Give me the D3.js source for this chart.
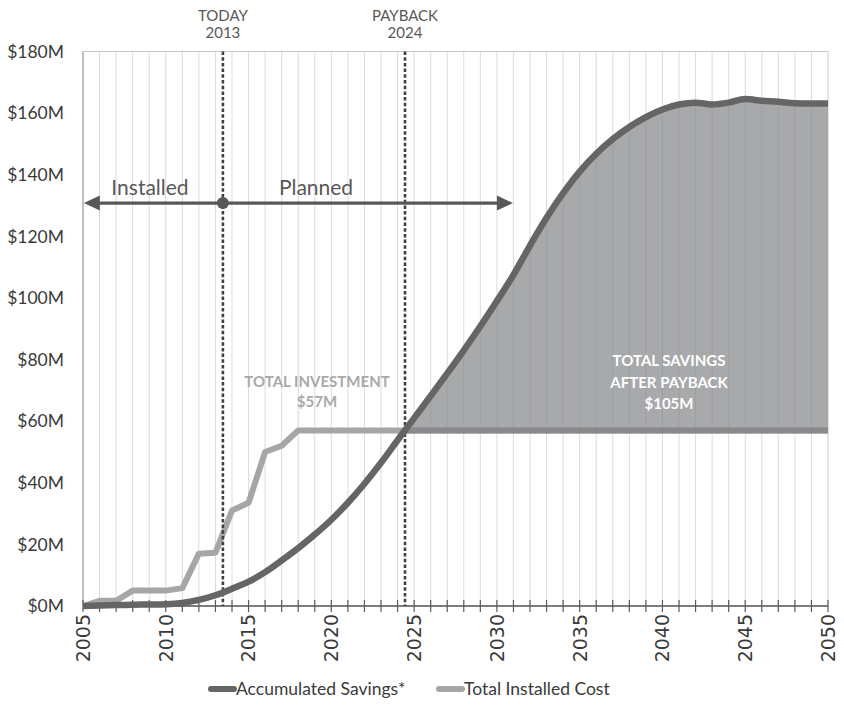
<!DOCTYPE html>
<html>
<head>
<meta charset="utf-8">
<script src="https://cdn.jsdelivr.net/npm/d3@7"></script>
<style>
  html, body { margin: 0; padding: 0; background: #fff; }
  svg { display: block; }
</style>
</head>
<body>
<div id="chart"></div>
<script>
// ---- data ----
const years = [2005, 2006, 2007, 2008, 2009, 2010, 2011, 2012, 2013, 2014,
               2015, 2016, 2017, 2018, 2019, 2020, 2021, 2022, 2023, 2024,
               2025, 2026, 2027, 2028, 2029, 2030, 2031, 2032, 2033, 2034,
               2035, 2036, 2037, 2038, 2039, 2040, 2041, 2042, 2043, 2044,
               2045, 2046, 2047, 2048, 2049, 2050];

// Accumulated savings, $M
const savings = [0, 0.2, 0.3, 0.4, 0.5, 0.6, 1.0, 2.0, 3.5, 5.6,
                 7.9, 11.0, 14.8, 18.8, 23.2, 28.0, 33.5, 39.7, 46.5, 53.8,
                 61.0, 68.2, 75.5, 83.0, 90.8, 99.0, 107.5, 117.0, 126.0, 134.0,
                 141.0, 146.8, 151.6, 155.5, 158.7, 161.2, 162.8, 163.4, 162.8, 163.4,
                 164.6, 164.0, 163.7, 163.2, 163.1, 163.1];

// Total installed cost, $M
const installedCost = [0, 1.7, 1.7, 5.0, 5.0, 5.0, 5.8, 17.0, 17.3, 31.0,
                       33.5, 50.0, 52.0, 57, 57, 57, 57, 57, 57, 57,
                       57, 57, 57, 57, 57, 57, 57, 57, 57, 57,
                       57, 57, 57, 57, 57, 57, 57, 57, 57, 57,
                       57, 57, 57, 57, 57, 57];

const yTicks = [0, 20, 40, 60, 80, 100, 120, 140, 160, 180];
const yTickLabels = ["$0M", "$20M", "$40M", "$60M", "$80M", "$100M", "$120M", "$140M", "$160M", "$180M"];
const xTickLabels = [2005, 2010, 2015, 2020, 2025, 2030, 2035, 2040, 2045, 2050];

const milestoneNames = ["TODAY", "PAYBACK"];
const milestoneYears = [2013, 2024];
const milestoneAt = [2013.45, 2024.45];

const totalInvestment = 57;
const savingsAfterPayback = 105;

const seriesNames = ["Accumulated Savings*", "Total Installed Cost"];

// ---- layout ----
const W = 844, H = 706;
const x = d3.scaleLinear().domain([2005, 2050]).range([83, 828]);
const y = d3.scaleLinear().domain([0, 180]).range([606, 51.5]);

const svg = d3.select("#chart").append("svg")
  .attr("width", W).attr("height", H)
  .style("font-family", "Lato, 'Open Sans', sans-serif");

svg.append("rect").attr("width", W).attr("height", H).attr("fill", "#fff");

const data = years.map((yr, i) => ({ year: yr, s: savings[i], c: installedCost[i] }));

const COL_DARK = "#656565";
const COL_LIGHT = "#a6a6a6";
const COL_FILL = "#a8a9ab";
const COL_TEXT = "#3a3a3a";
const COL_NOTE = "#585858";

const defs = svg.append("defs");
const paybackX = x(milestoneAt[1]);
defs.append("clipPath").attr("id", "afterPayback")
  .append("rect")
  .attr("x", paybackX).attr("y", 0)
  .attr("width", x(2050) - paybackX).attr("height", H);

// vertical year gridlines
svg.append("g").selectAll("line")
  .data(years.filter(d => d > 2005 && d < 2050))
  .join("line")
  .attr("x1", d => x(d)).attr("x2", d => x(d))
  .attr("y1", y(180)).attr("y2", y(0))
  .attr("stroke", "#dcdcdc").attr("stroke-width", 1);

// plot frame
svg.append("rect")
  .attr("x", x(2005)).attr("y", y(180))
  .attr("width", x(2050) - x(2005)).attr("height", y(0) - y(180))
  .attr("fill", "none").attr("stroke", "#c8c8c8").attr("stroke-width", 1);
svg.append("line")
  .attr("x1", x(2005)).attr("x2", x(2005))
  .attr("y1", y(180)).attr("y2", y(0))
  .attr("stroke", "#9a9a9a").attr("stroke-width", 1);

// savings area above the installed cost, after payback
const area = d3.area()
  .x(d => x(d.year))
  .y0(d => y(d.c))
  .y1(d => y(Math.max(d.s, d.c)));
const areaPath = area(data);
svg.append("path")
  .attr("d", areaPath)
  .attr("clip-path", "url(#afterPayback)")
  .attr("fill", COL_FILL);

// gridlines seen through the shaded area
defs.append("clipPath").attr("id", "areaClip")
  .append("path").attr("d", areaPath);
svg.append("g").attr("clip-path", "url(#afterPayback)")
  .append("g").attr("clip-path", "url(#areaClip)")
  .selectAll("line")
  .data(years.filter(d => d > 2005 && d < 2050))
  .join("line")
  .attr("x1", d => x(d)).attr("x2", d => x(d))
  .attr("y1", y(180)).attr("y2", y(0))
  .attr("stroke", "#9d9ea0").attr("stroke-width", 1);

// x axis with a tick for every year
const xAxisG = svg.append("g").attr("transform", `translate(0,${y(0)})`);
xAxisG.append("line")
  .attr("x1", x(2005)).attr("x2", x(2050))
  .attr("stroke", "#5a5a5a").attr("stroke-width", 1.5);
xAxisG.selectAll("line.tick")
  .data(years)
  .join("line").attr("class", "tick")
  .attr("x1", d => x(d)).attr("x2", d => x(d))
  .attr("y1", -6).attr("y2", 6)
  .attr("stroke", "#5a5a5a").attr("stroke-width", 1.2);
xAxisG.selectAll("text")
  .data(xTickLabels)
  .join("text")
  .attr("transform", d => `translate(${x(d)},8) rotate(-90)`)
  .attr("text-anchor", "end")
  .attr("dy", "0.36em")
  .attr("font-family", "'DejaVu Sans', Verdana, sans-serif")
  .attr("font-size", 19)
  .attr("fill", COL_TEXT)
  .text(d => d);

// y axis labels
svg.append("g").selectAll("text")
  .data(yTicks)
  .join("text")
  .attr("x", 64).attr("y", d => y(d))
  .attr("dy", "0.36em")
  .attr("text-anchor", "end")
  .attr("font-size", 17.5)
  .attr("fill", COL_TEXT)
  .text((d, i) => yTickLabels[i]);

// installed cost line
const costLine = d3.line().x(d => x(d.year)).y(d => y(d.c));
svg.append("path")
  .attr("d", costLine(data))
  .attr("fill", "none").attr("stroke", COL_LIGHT)
  .attr("stroke-width", 6).attr("stroke-linejoin", "round");
svg.append("path")
  .attr("d", costLine(data))
  .attr("clip-path", "url(#afterPayback)")
  .attr("fill", "none").attr("stroke", "#8a8a8c")
  .attr("stroke-width", 6);

// milestone lines and labels
milestoneAt.forEach((m, i) => {
  svg.append("line")
    .attr("x1", x(m)).attr("x2", x(m))
    .attr("y1", y(180)).attr("y2", y(0))
    .attr("stroke", "#404040").attr("stroke-width", 2.6)
    .attr("stroke-dasharray", "3.5,2.2");
  svg.append("text")
    .attr("x", x(m)).attr("y", 21)
    .attr("text-anchor", "middle").attr("font-size", 15)
    .attr("fill", COL_NOTE).text(milestoneNames[i]);
  svg.append("text")
    .attr("x", x(m)).attr("y", 38)
    .attr("text-anchor", "middle").attr("font-size", 15)
    .attr("fill", COL_NOTE).text(milestoneYears[i]);
});

// accumulated savings line
const savingsLine = d3.line().x(d => x(d.year)).y(d => y(d.s)).curve(d3.curveMonotoneX);
svg.append("path")
  .attr("d", savingsLine(data))
  .attr("fill", "none").attr("stroke", COL_DARK)
  .attr("stroke-width", 6.5).attr("stroke-linejoin", "round").attr("stroke-linecap", "butt");

// installed / planned arrow
const arrowV = 130.8;
const ay = y(arrowV);
const ax1 = x(2005.05), ax2 = x(2030.97);
const headL = 16, headH = 7.5;
svg.append("line")
  .attr("x1", ax1 + headL - 2).attr("x2", ax2 - headL + 2)
  .attr("y1", ay).attr("y2", ay)
  .attr("stroke", COL_NOTE).attr("stroke-width", 3.2);
svg.append("path")
  .attr("d", `M${ax1},${ay} L${ax1 + headL},${ay - headH} L${ax1 + headL},${ay + headH} Z`)
  .attr("fill", COL_NOTE);
svg.append("path")
  .attr("d", `M${ax2},${ay} L${ax2 - headL},${ay - headH} L${ax2 - headL},${ay + headH} Z`)
  .attr("fill", COL_NOTE);
svg.append("circle")
  .attr("cx", x(milestoneAt[0])).attr("cy", ay).attr("r", 6)
  .attr("fill", COL_NOTE);
svg.append("text")
  .attr("x", 150).attr("y", ay - 8.5)
  .attr("text-anchor", "middle").attr("font-size", 21)
  .attr("fill", COL_NOTE).text("Installed");
svg.append("text")
  .attr("x", 316).attr("y", ay - 8.5)
  .attr("text-anchor", "middle").attr("font-size", 21)
  .attr("fill", COL_NOTE).text("Planned");

// annotations
const invG = svg.append("g")
  .attr("font-weight", "bold").attr("font-size", 15)
  .attr("fill", "#a9a9a9").attr("text-anchor", "middle");
invG.append("text").attr("x", 317).attr("y", 387).text("TOTAL INVESTMENT");
invG.append("text").attr("x", 317).attr("y", 407).text(`$${totalInvestment}M`);

const savG = svg.append("g")
  .attr("font-weight", "bold").attr("font-size", 15)
  .attr("fill", "#ffffff").attr("text-anchor", "middle");
savG.append("text").attr("x", 669).attr("y", 366).text("TOTAL SAVINGS");
savG.append("text").attr("x", 669).attr("y", 387.5).text("AFTER PAYBACK");
savG.append("text").attr("x", 669).attr("y", 409).text(`$${savingsAfterPayback}M`);

// legend
const legend = svg.append("g").attr("font-size", 17.5).attr("fill", COL_TEXT);
const legendItems = [
  { name: seriesNames[0], color: COL_DARK, x0: 211 },
  { name: seriesNames[1], color: COL_LIGHT, x0: 439 }
];
legendItems.forEach(it => {
  legend.append("line")
    .attr("x1", it.x0).attr("x2", it.x0 + 23)
    .attr("y1", 689).attr("y2", 689)
    .attr("stroke", it.color).attr("stroke-width", 6).attr("stroke-linecap", "round");
  legend.append("text")
    .attr("x", it.x0 + 25).attr("y", 695)
    .text(it.name);
});
</script>
</body>
</html>
